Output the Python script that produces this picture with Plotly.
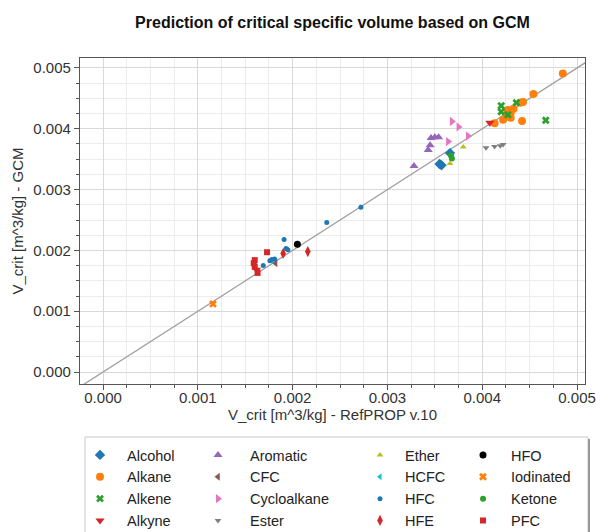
import plotly.graph_objects as go

# ---- data ----
alcohol_x = [0.00366, 0.00355, 0.00357]
alcohol_y = [0.00360, 0.00342, 0.00340]
alkane_x = [0.00485, 0.00454, 0.00443, 0.00440, 0.00427, 0.00430, 0.00426, 0.00430, 0.00422, 0.00442, 0.00413, 0.00433]
alkane_y = [0.00491, 0.00457, 0.00444, 0.00443, 0.00431, 0.00426, 0.00420, 0.00418, 0.00415, 0.00413, 0.00409, 0.00433]
alkene_x = [0.00420, 0.00436, 0.00420, 0.00427, 0.00467]
alkene_y = [0.00438, 0.00443, 0.00428, 0.00423, 0.00414]
alkyne_x = [0.00408, 0.00162]
alkyne_y = [0.00410, 0.00168]
aromatic_x = [0.00350, 0.00354, 0.00346, 0.00345, 0.00343, 0.00328]
aromatic_y = [0.00386, 0.00386, 0.00385, 0.00373, 0.00365, 0.00339]
cfc_x = [0.00182]
cfc_y = [0.00179]
cycloalkane_x = [0.00368, 0.00375, 0.00364, 0.00385]
cycloalkane_y = [0.00412, 0.00403, 0.00379, 0.00388]
ester_x = [0.00404, 0.00413, 0.00419, 0.00422]
ester_y = [0.00369, 0.00371, 0.00372, 0.00374]
ether_x = [0.00380, 0.00366]
ether_y = [0.00370, 0.00343]
hcfc_x = [0.00178]
hcfc_y = [0.00183]
hfc_x = [0.00272, 0.00236, 0.00191, 0.00193, 0.00195, 0.00178, 0.00181, 0.00176, 0.00169]
hfc_y = [0.00271, 0.00246, 0.00218, 0.00203, 0.00201, 0.00185, 0.00186, 0.00183, 0.00175]
hfe_x = [0.00216, 0.00190]
hfe_y = [0.00198, 0.00195]
hfo_x = [0.00205]
hfo_y = [0.00210]
iodinated_x = [0.00116]
iodinated_y = [0.00112]
ketone_x = [0.00368, 0.00367]
ketone_y = [0.00351, 0.00356]
pfc_x = [0.00173, 0.00160, 0.00159, 0.00160, 0.00163]
pfc_y = [0.00197, 0.00184, 0.00179, 0.00173, 0.00163]

x_range = [-0.000243, 0.005084]
y_range = [-0.000197, 0.005164]
tick_vals = [0.000, 0.001, 0.002, 0.003, 0.004, 0.005]
tick_text = ["0.000", "0.001", "0.002", "0.003", "0.004", "0.005"]

series = [
    # name, x, y, color, symbol, size, legend
    ("Alcohol", alcohol_x, alcohol_y, "#1f77b4", "diamond", 8, "legend"),
    ("Alkane", alkane_x, alkane_y, "#ff7f0e", "circle", 8, "legend"),
    ("Alkene", alkene_x, alkene_y, "#2ca02c", "x", 7, "legend"),
    ("Alkyne", alkyne_x, alkyne_y, "#d62728", "triangle-down", 8, "legend"),
    ("Aromatic", aromatic_x, aromatic_y, "#9467bd", "triangle-up", 8, "legend2"),
    ("CFC", cfc_x, cfc_y, "#8c564b", "triangle-left", 7, "legend2"),
    ("Cycloalkane", cycloalkane_x, cycloalkane_y, "#e377c2", "triangle-right", 8, "legend2"),
    ("Ester", ester_x, ester_y, "#7f7f7f", "triangle-down", 6, "legend2"),
    ("Ether", ether_x, ether_y, "#bcbd22", "triangle-up", 6, "legend3"),
    ("HCFC", hcfc_x, hcfc_y, "#17becf", "triangle-left", 6, "legend3"),
    ("HFC", hfc_x, hfc_y, "#1f77b4", "circle", 5, "legend3"),
    ("HFE", hfe_x, hfe_y, "#d62728", "diamond-tall", 8, "legend3"),
    ("HFO", hfo_x, hfo_y, "#000000", "circle", 7, "legend4"),
    ("Iodinated", iodinated_x, iodinated_y, "#ff7f0e", "x", 7, "legend4"),
    ("Ketone", ketone_x, ketone_y, "#2ca02c", "circle", 6, "legend4"),
    ("PFC", pfc_x, pfc_y, "#d62728", "square", 6, "legend4"),
]

fig = go.Figure()
# identity line
fig.add_trace(go.Scatter(x=[x_range[0], x_range[1] + 0.001], y=[x_range[0], x_range[1] + 0.001],
                         mode="lines", line=dict(color="#a0a0a0", width=1.3),
                         showlegend=False, hoverinfo="skip"))
for name, xs, ys, col, sym, sz, lg in series:
    fig.add_trace(go.Scatter(x=xs, y=ys, mode="markers", name=name, legend=lg,
                             marker=dict(color=col, symbol=sym, size=sz, line=dict(width=0))))

W, H = 596, 532
ml, mr, mt, mb = 80, 11, 58, 148
pw, ph = W - ml - mr, H - mt - mb

def px2x(px):
    return (px - ml) / pw

def py2y(py):
    return (H - mb - py) / ph

font = "Arial, Liberation Sans, sans-serif"
leg_common = dict(orientation="v", xanchor="left", yanchor="top", bgcolor="rgba(0,0,0,0)",
                  font=dict(family=font, size=14.5, color="#222"), tracegroupgap=0,
                  borderwidth=0)
legend_lefts = [73, 186, 355, 455]
legend_itemwidths = [44, 54, 40, 46]
leg_top = py2y(439)

axis_common = dict(showline=True, linecolor="#555", linewidth=1.2, mirror=True,
                   ticks="outside", ticklen=5, tickcolor="#555",
                   showgrid=True, gridcolor="#d9d9d9", gridwidth=1, zeroline=False,
                   tickvals=tick_vals, ticktext=tick_text,
                   tickfont=dict(family=font, size=15, color="#333"),
                   minor=dict(dtick=0.00025, ticks="outside", ticklen=3, tickcolor="#555",
                              showgrid=True, gridcolor="#ececec", gridwidth=1))

legends = {}
for i, key in enumerate(["legend", "legend2", "legend3", "legend4"]):
    legends[key] = dict(x=px2x(legend_lefts[i]), y=leg_top, itemwidth=legend_itemwidths[i], **leg_common)

fig.update_layout(
    width=W, height=H,
    margin=dict(l=ml, r=mr, t=mt, b=mb, autoexpand=False),
    paper_bgcolor="white", plot_bgcolor="white",
    title=dict(text="<b>Prediction of critical specific volume based on GCM</b>",
               x=0.5, xref="paper", xanchor="center", y=1 - 22 / H, yanchor="middle",
               font=dict(family=font, size=16, color="#111")),
    xaxis=dict(range=x_range, **axis_common, ticklabelstandoff=-5,
               title=dict(text="V_crit [m^3/kg] - RefPROP v.10", standoff=0,
                          font=dict(family=font, size=15, color="#333"))),
    yaxis=dict(range=y_range, **axis_common,
               title=dict(text="V_crit [m^3/kg] - GCM", standoff=6,
                          font=dict(family=font, size=15, color="#333"))),
    shapes=[
        dict(type="rect", xref="paper", yref="paper", x0=px2x(85), x1=px2x(588),
             y0=py2y(545), y1=py2y(437), line=dict(color="#c8c8c8", width=1),
             fillcolor="rgba(0,0,0,0)", layer="below"),
        dict(type="line", xref="paper", yref="paper", x0=px2x(589), x1=px2x(589),
             y0=py2y(545), y1=py2y(439), line=dict(color="#999", width=2)),
    ],
    **legends,
)

fig.write_html("out.html")
